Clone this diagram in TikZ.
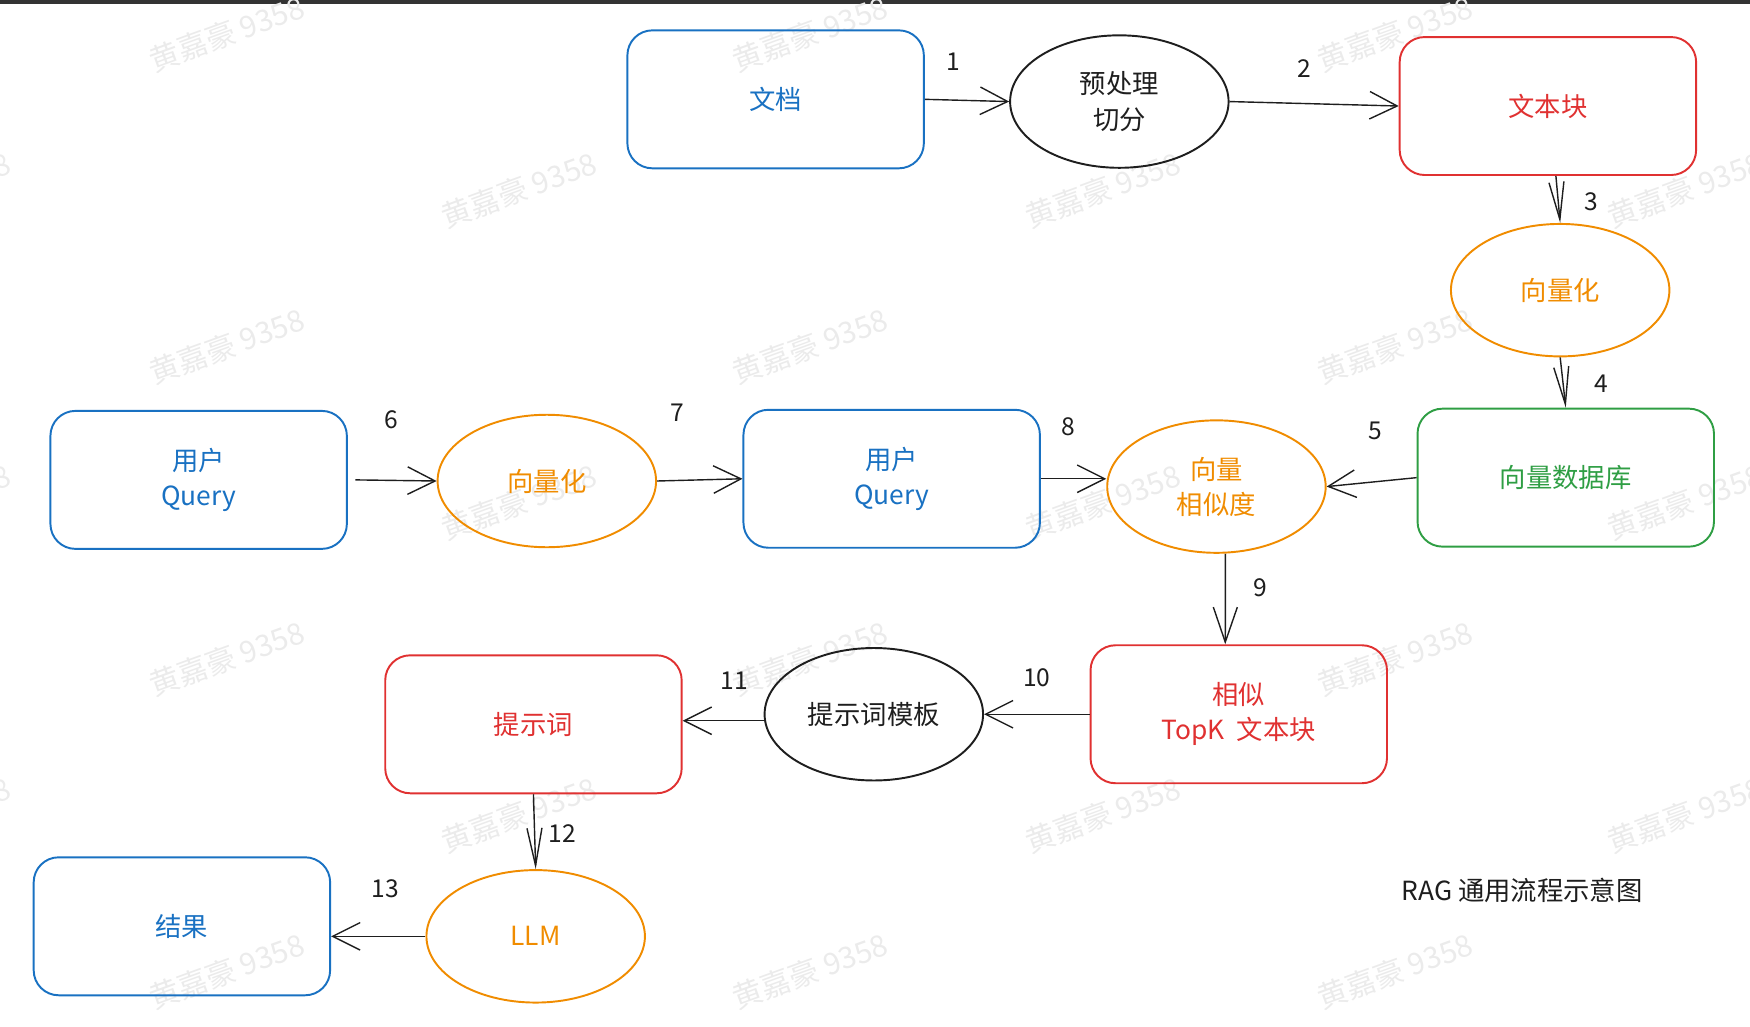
\documentclass[tikz,border=0pt]{standalone}
\usepackage{fontspec}
\setmainfont{Noto Sans CJK SC}
\usepackage{xcolor}
\usepackage{tikz}
\usetikzlibrary{shapes,arrows.meta,positioning,calc}

\definecolor{exblue}{HTML}{1971C2}
\definecolor{exred}{HTML}{E03131}
\definecolor{exorange}{HTML}{F08C00}
\definecolor{exgreen}{HTML}{2F9E44}
\definecolor{exink}{HTML}{1E1E1E}
\definecolor{wmgray}{HTML}{EBEBEB}
\definecolor{topbar}{HTML}{333333}

\begin{document}
\begin{tikzpicture}[x=0.02232cm, y=-0.02232cm,
    box/.style={draw, line width=1.1pt, rounded corners=0.5cm, minimum width=5.93cm, minimum height=2.76cm, align=center, font=\fontsize{15}{20}\selectfont},
    oval/.style={draw, ellipse, line width=1.1pt, minimum width=4.37cm, minimum height=2.65cm, inner sep=0pt, align=center, font=\fontsize{15}{20}\selectfont},
    flow/.style={-{Straight Barb[length=5.5mm,width=5.5mm]}, line width=0.8pt, exink},
    flowv/.style={-{Straight Barb[length=7.5mm,width=3mm]}, line width=0.8pt, exink},
    num/.style={font=\fontsize{14}{16}\selectfont, text=exink},
    wmark/.style={text=wmgray, rotate=20, font=\fontsize{17}{20}\selectfont}]
        \useasboundingbox (0,0) rectangle (1568.1,919.4);
        \fill[topbar] (0,0) rectangle (1568.1,3.5);

        % watermark
        \foreach \wx/\wy [count=\i] in {203/30, 726/30, 1250/30, -60/170, 465/170, 988/170, 1510/170,
            203/310, 726/310, 1250/310, -60/450, 465/450, 988/450, 1510/450,
            203/590, 726/590, 1250/590, -60/730, 465/730, 988/730, 1510/730,
            203/870, 726/870, 1250/870}
            \node[wmark] (wm\i) at (\wx,\wy) {黄嘉豪 9358};

        % documents side
        \node[box, draw=exblue, text=exblue] (doc) at (695,89) {文档};
        \node[oval, draw=exink, text=exink] (prep) at (1003,91) {预处理\\切分};
        \node[box, draw=exred, text=exred] (chunk) at (1387,95) {文本块};
        \node[oval, draw=exorange, text=exorange] (vec1) at (1398,260) {向量化};
        \node[box, draw=exgreen, text=exgreen] (vdb) at (1403,428) {向量数据库};

        % query side
        \node[box, draw=exblue, text=exblue] (query1) at (178,430) {用户\\Query};
        \node[oval, draw=exorange, text=exorange] (vec2) at (490,431) {向量化};
        \node[box, draw=exblue, text=exblue] (query2) at (799,429) {用户\\Query};
        \node[oval, draw=exorange, text=exorange] (sim) at (1090,436) {向量\\相似度};

        % answer side
        \node[box, draw=exred, text=exred] (topk) at (1110,640) {相似\\TopK\ \ 文本块};
        \node[oval, draw=exink, text=exink] (tpl) at (783,640) {提示词模板};
        \node[box, draw=exred, text=exred] (prompt) at (478,649) {提示词};
        \node[oval, draw=exorange, text=exorange] (llm) at (480,839) {LLM};
        \node[box, draw=exblue, text=exblue] (result) at (163,830) {结果};

        \node[text=exink, font=\fontsize{15}{18}\selectfont] (title) at (1364,798) {RAG 通用流程示意图};

        % connectors
        \draw[flow] (doc.east) -- (prep.west);
        \draw[flow] (prep.east) -- (chunk.west);
        \draw[flowv] ([xshift=0.16cm]chunk.south) -- (vec1.north);
        \draw[flowv] (vec1.south) -- (vdb.north);
        \draw[flow] (vdb.west) -- (sim.east);
        \draw[flow] ([xshift=0.15cm]query1.east) -- (vec2.west);
        \draw[flow] (vec2.east) -- (query2.west);
        \draw[flow] (query2.east) -- (query2.east -| sim.west);
        \draw[flowv, -{Straight Barb[length=7mm,width=4.8mm]}] ([xshift=0.18cm]sim.south) -- ([xshift=-0.27cm]topk.north);
        \draw[flow] (topk.west) -- (tpl.east);
        \draw[flow] ([yshift=-0.13cm]tpl.west) -- ([yshift=-0.13cm]tpl.west -| prompt.east);
        \draw[flowv] (prompt.south) -- (llm.north);
        \draw[flow] (llm.west) -- (llm.west -| result.east);

        % step numbers
        \node[num] (n1) at (854,55) {1};
        \node[num] (n2) at (1169,61) {2};
        \node[num] (n3) at (1426,181) {3};
        \node[num] (n4) at (1435,344) {4};
        \node[num] (n5) at (1232,386) {5};
        \node[num] (n6) at (351,376) {6};
        \node[num] (n7) at (607,370) {7};
        \node[num] (n8) at (957,382) {8};
        \node[num] (n9) at (1129,527) {9};
        \node[num] (n10) at (929,607) {10};
        \node[num] (n11) at (658,610) {11};
        \node[num] (n12) at (504,747) {12};
        \node[num] (n13) at (345,796) {13};
    \end{tikzpicture}
\end{document}
